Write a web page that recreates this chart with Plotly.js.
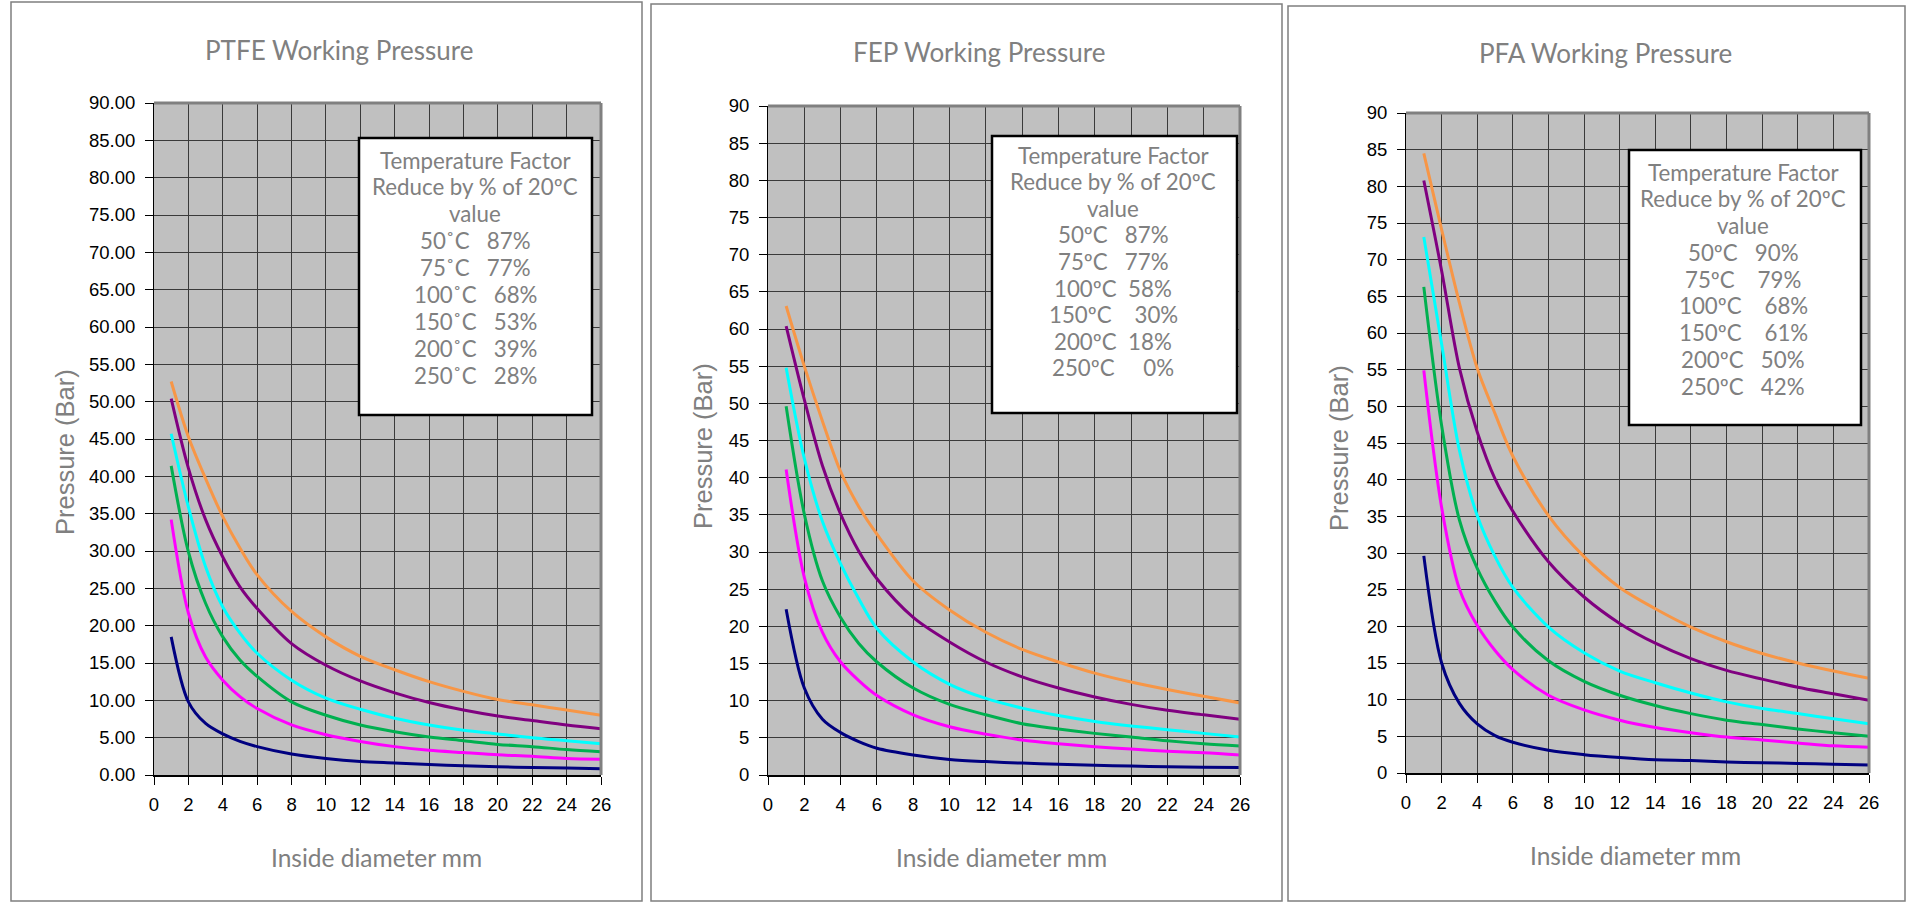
<!DOCTYPE html>
<html>
<head>
<meta charset="utf-8">
<script src="https://cdn.plot.ly/plotly-3.0.1.min.js"></script>
<style>
html,body{margin:0;padding:0;background:#fff;}
#chart{width:1908px;height:903px;}
</style>
</head>
<body>
<div id="chart"></div>
<script>
// ---- data ----
const diameters = [1,2,3,4,5,6,8,10,12,14,16,18,20,22,24,26];

const ptfeOrange  = [52.7,45.3,39.7,34.6,30.4,26.8,21.9,18.5,15.9,14.1,12.5,11.2,10.1,9.4,8.7,8.0];
const ptfePurple  = [50.4,41.1,34.2,29.2,25.2,22.3,17.6,14.7,12.6,11.0,9.7,8.7,7.9,7.3,6.7,6.2];
const ptfeCyan    = [45.7,35.9,27.9,22.5,19.0,16.3,12.7,10.3,8.8,7.6,6.7,6.0,5.5,5.0,4.6,4.2];
const ptfeGreen   = [41.4,29.9,23.0,18.5,15.4,13.2,9.8,8.0,6.7,5.8,5.1,4.6,4.1,3.8,3.4,3.1];
const ptfeMagenta = [34.2,21.7,15.8,12.7,10.5,8.9,6.7,5.4,4.5,3.8,3.3,3.0,2.7,2.5,2.2,2.1];
const ptfeNavy    = [18.5,9.8,6.9,5.5,4.5,3.8,2.8,2.2,1.8,1.6,1.4,1.25,1.1,1.0,0.95,0.85];

const fepOrange  = [63.1,55.0,47.6,40.8,36.1,32.4,26.1,22.2,19.2,16.9,15.2,13.7,12.5,11.5,10.6,9.7];
const fepPurple  = [60.4,50.5,41.6,35.1,30.1,26.4,21.2,17.9,15.2,13.2,11.7,10.5,9.5,8.7,8.1,7.5];
const fepCyan    = [54.8,42.6,34.1,28.4,23.7,19.7,15.2,12.2,10.3,9.0,8.0,7.2,6.6,6.1,5.6,5.1];
const fepGreen   = [49.6,35.1,26.1,21.2,17.7,15.2,11.7,9.5,8.1,6.9,6.2,5.6,5.1,4.6,4.2,3.9];
const fepMagenta = [41.1,26.6,19.2,15.2,12.7,10.7,8.1,6.5,5.5,4.7,4.2,3.8,3.5,3.2,3.0,2.7];
const fepNavy    = [22.3,11.7,7.5,5.7,4.5,3.6,2.7,2.1,1.8,1.6,1.45,1.3,1.2,1.1,1.05,1.0];

const pfaOrange  = [84.5,74.1,64.1,55.2,49.0,43.2,35.1,29.5,25.3,22.4,19.9,17.9,16.3,15.0,13.9,12.9];
const pfaPurple  = [80.8,68.5,55.2,46.5,40.1,35.7,28.8,24.0,20.4,17.7,15.6,14.0,12.8,11.7,10.8,9.9];
const pfaCyan    = [73.1,58.5,44.0,35.1,29.5,25.3,19.9,16.4,13.9,12.3,10.9,9.7,8.8,8.1,7.4,6.7];
const pfaGreen   = [66.3,47.4,34.5,27.9,23.4,19.9,15.3,12.5,10.6,9.2,8.1,7.2,6.6,6.0,5.5,5.0];
const pfaMagenta = [54.9,36.2,25.1,20.1,16.7,14.1,10.6,8.6,7.2,6.2,5.5,4.9,4.5,4.1,3.7,3.5];
const pfaNavy    = [29.6,15.0,9.5,6.7,5.1,4.2,3.1,2.5,2.1,1.8,1.7,1.5,1.4,1.3,1.2,1.1];

const chartTitles = ["PTFE Working Pressure","FEP Working Pressure","PFA Working Pressure"];
const xTitle = "Inside diameter mm";
const yTitle = "Pressure (Bar)";

const legendHead = ["Temperature Factor","Reduce by % of 20ºC","value"];
const ptfeRows = ["50˚C   87%","75˚C   77%","100˚C   68%","150˚C   53%","200˚C   39%","250˚C   28%"];
const fepRows  = ["50ºC   87%","75ºC   77%","100ºC  58%","150ºC    30%","200ºC  18%","250ºC     0%"];
const pfaRows  = ["50ºC   90%","75ºC    79%","100ºC    68%","150ºC    61%","200ºC   50%","250ºC   42%"];

// ---- styling ----
const W = 1908, H = 903;
const px = x => x / W;
const py = y => 1 - y / H;
const colors = ['#F79646','#800080','#00FFFF','#00B050','#FF00FF','#000080'];
const grayText = '#808080';
const textFont = 'Lato, "Liberation Sans", sans-serif';
const tickFont = {family:'"Liberation Sans", Arial, sans-serif', size:18.5, color:'#000'};

const panels = [
  {series:[ptfeOrange,ptfePurple,ptfeCyan,ptfeGreen,ptfeMagenta,ptfeNavy], plot:[154,601,103,775], fmt:'.2f',
   frame:[11,642,2,901], title:[339,50], xt:[376,857], yt:[65,452], box:[359,592,138,415], rows:ptfeRows, txt:[475,160,26.9]},
  {series:[fepOrange,fepPurple,fepCyan,fepGreen,fepMagenta,fepNavy], plot:[768,1240,106,775], fmt:'d',
   frame:[651,1282,4,901], title:[979,52], xt:[1001,857], yt:[703,446], box:[992,1237,136,413], rows:fepRows, txt:[1113,155,26.6]},
  {series:[pfaOrange,pfaPurple,pfaCyan,pfaGreen,pfaMagenta,pfaNavy], plot:[1406,1869,113,773], fmt:'d',
   frame:[1288,1905,6,901], title:[1605,53], xt:[1635,855], yt:[1339,448], box:[1629,1861,150,425], rows:pfaRows, txt:[1743,172,26.75]}
];

const data = [];
const layout = {
  width:W, height:H, margin:{l:0,r:0,t:0,b:0},
  paper_bgcolor:'#fff', plot_bgcolor:'#C0C0C0', showlegend:false,
  shapes:[], annotations:[]
};

panels.forEach((p, i) => {
  const n = i === 0 ? '' : String(i+1);
  const xk = 'xaxis' + n, yk = 'yaxis' + n;
  const xr = 'x' + n, yr = 'y' + n;
  p.series.forEach((s, k) => {
    data.push({x:diameters, y:s, xaxis:xr, yaxis:yr, type:'scatter', mode:'lines',
      line:{color:colors[k], width:3, shape:'spline', smoothing:0.9}, hoverinfo:'skip'});
  });
  layout[xk] = {domain:[px(p.plot[0]), px(p.plot[1])], anchor:yr, range:[0,26], dtick:2, tick0:0,
    ticks:'outside', ticklen:8, tickcolor:'#000', tickwidth:1, ticklabelstandoff:4,
    showgrid:true, gridcolor:'#3a3a3a', gridwidth:1, zeroline:false,
    showline:true, linecolor:'#000', linewidth:2, tickfont:tickFont, fixedrange:true};
  layout[yk] = {domain:[py(p.plot[3]), py(p.plot[2])], anchor:xr, range:[0,90], dtick:5, tick0:0,
    tickformat:p.fmt, ticks:'outside', ticklen:8, tickcolor:'#000', tickwidth:1, ticklabelstandoff:6,
    showgrid:true, gridcolor:'#3a3a3a', gridwidth:1, zeroline:false,
    showline:true, linecolor:'#000', linewidth:1, tickfont:tickFont, fixedrange:true};

  // top & right plot border (gray)
  layout.shapes.push({type:'line', xref:xr+' domain', yref:yr+' domain', x0:0, x1:1, y0:1, y1:1,
    line:{color:'#808080', width:3}, layer:'above'});
  layout.shapes.push({type:'line', xref:xr+' domain', yref:yr+' domain', x0:1, x1:1, y0:0, y1:1,
    line:{color:'#808080', width:3}, layer:'above'});
  // panel frame
  layout.shapes.push({type:'rect', xref:'paper', yref:'paper',
    x0:px(p.frame[0]), x1:px(p.frame[1]), y0:py(p.frame[3]), y1:py(p.frame[2]),
    line:{color:'#7f7f7f', width:1.5}, layer:'below'});
  // legend box
  layout.shapes.push({type:'rect', xref:'paper', yref:'paper',
    x0:px(p.box[0]), x1:px(p.box[1]), y0:py(p.box[3]), y1:py(p.box[2]),
    fillcolor:'#fff', line:{color:'#000', width:2.5}, layer:'above'});

  layout.annotations.push({xref:'paper', yref:'paper', x:px(p.title[0]), y:py(p.title[1]),
    xanchor:'center', yanchor:'middle', showarrow:false, text:chartTitles[i],
    font:{family:textFont, size:26, color:grayText}});
  layout.annotations.push({xref:'paper', yref:'paper', x:px(p.xt[0]), y:py(p.xt[1]),
    xanchor:'center', yanchor:'middle', showarrow:false, text:xTitle,
    font:{family:textFont, size:24.5, color:grayText}});
  layout.annotations.push({xref:'paper', yref:'paper', x:px(p.yt[0]), y:py(p.yt[1]),
    xanchor:'center', yanchor:'middle', showarrow:false, text:yTitle, textangle:-90,
    font:{family:'"Liberation Sans", Arial, sans-serif', size:25.5, color:grayText}});
  const lines = legendHead.concat(p.rows);
  lines.forEach((t, j) => {
    layout.annotations.push({xref:'paper', yref:'paper', x:px(p.txt[0]), y:py(p.txt[1] + j*p.txt[2]),
      xanchor:'center', yanchor:'middle', showarrow:false, align:'center',
      text:t.replace(/ /g, '\u00a0'),
      font:{family:textFont, size:22.3, color:grayText}});
  });
});

Plotly.newPlot('chart', data, layout, {staticPlot:true, displayModeBar:false});
</script>
</body>
</html>
